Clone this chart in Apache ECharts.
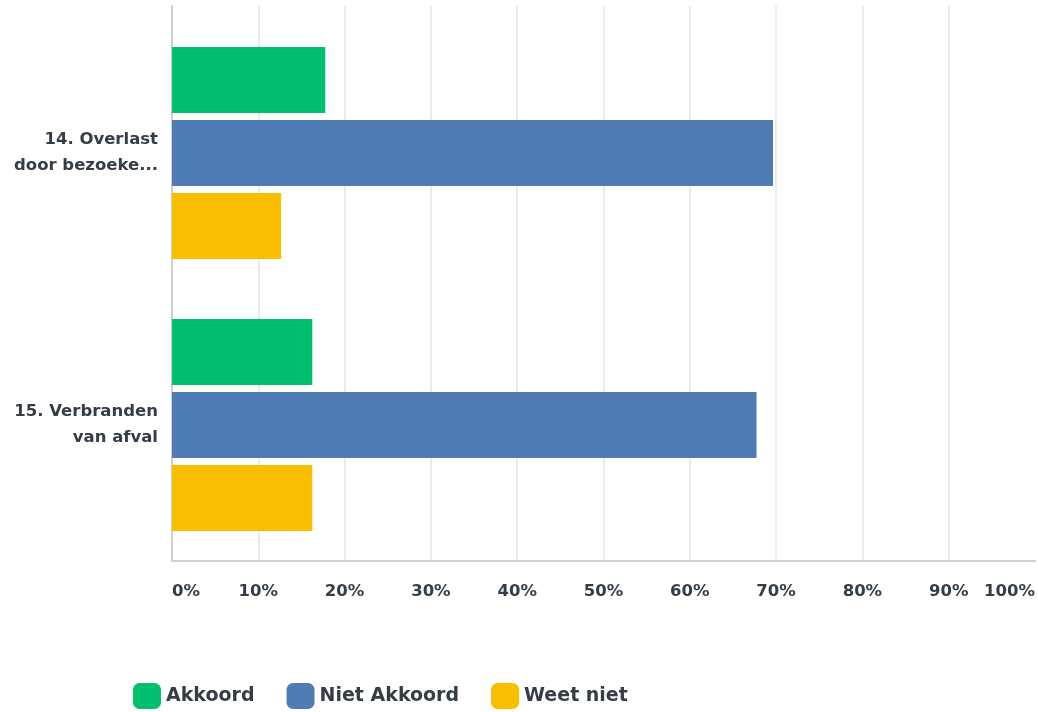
<!DOCTYPE html>
<html>
<head>
<meta charset="utf-8">
<script src="https://cdn.jsdelivr.net/npm/echarts@6/dist/echarts.min.js"></script>
<style>
html,body{margin:0;padding:0;background:#fff;}
#chart{width:1038px;height:712px;}
</style>
</head>
<body>
<div id="chart"></div>
<script>
const categories = ["14. Overlast\ndoor bezoeke...", "15. Verbranden\nvan afval"];
const seriesNames = ["Akkoord", "Niet Akkoord", "Weet niet"];
const akkoord = [17.7, 16.2];
const nietAkkoord = [69.4, 67.5];
const weetNiet = [12.6, 16.2];
const xTicks = [0, 10, 20, 30, 40, 50, 60, 70, 80, 90, 100];

const colors = ["#00bf6f", "#507cb6", "#f9be00"];
const textColor = "#333e48";
const font = "'DejaVu Sans', sans-serif";

const chart = echarts.init(document.getElementById('chart'));
const values = [akkoord, nietAkkoord, weetNiet];
chart.setOption({
  animation: false,
  color: colors,
  grid: [
    { left: 172, right: 0, top: 6, height: 555, containLabel: false },
    { left: 172, right: 0, top: 17, height: 544, containLabel: false }
  ],
  legend: {
    left: 133, top: 683, padding: 0,
    itemWidth: 28, itemHeight: 26, itemGap: 32,
    icon: 'roundRect',
    textStyle: { color: textColor, fontSize: 19, fontWeight: 'bold', fontFamily: font },
    data: seriesNames
  },
  xAxis: [
    {
      gridIndex: 0, type: 'value', min: 0, max: 100, interval: 10,
      axisLine: { show: true, lineStyle: { color: '#cfcfcf', width: 2 } },
      axisTick: { show: false },
      splitLine: { show: true, showMaxLine: false, lineStyle: { color: '#ececec', width: 2 } },
      axisLabel: {
        margin: 22, color: textColor, fontSize: 16.5, fontWeight: 'bold', fontFamily: font,
        alignMinLabel: 'left', alignMaxLabel: 'right',
        formatter: v => xTicks.includes(v) ? v + '%' : ''
      }
    },
    {
      gridIndex: 1, type: 'value', min: 0, max: 100, interval: 10, show: false,
      splitLine: { show: false }
    }
  ],
  yAxis: [
    {
      gridIndex: 0, type: 'value', min: 0, max: 1,
      axisLine: { show: true, lineStyle: { color: '#cfcfcf', width: 2 } },
      axisTick: { show: false }, axisLabel: { show: false }, splitLine: { show: false }
    },
    {
      gridIndex: 1, type: 'category', data: categories, inverse: true,
      axisLine: { show: false },
      axisTick: { show: false },
      axisLabel: {
        margin: 14, color: textColor, fontSize: 16.5, fontWeight: 'bold', fontFamily: font,
        align: 'right', lineHeight: 26
      }
    }
  ],
  series: seriesNames.map((n, i) => ({
    name: n, type: 'bar', data: values[i],
    xAxisIndex: 1, yAxisIndex: 1,
    barWidth: 66, barGap: '10.6%'
  }))
});
</script>
</body>
</html>
